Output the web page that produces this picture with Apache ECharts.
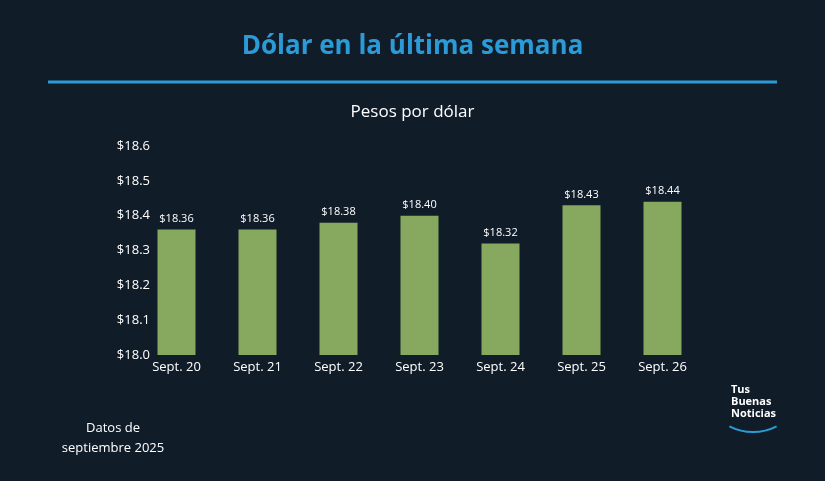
<!DOCTYPE html>
<html lang="es">
<head>
  <meta charset="UTF-8">
  <title>Dólar en la última semana</title>
  <style>
    html, body { margin: 0; padding: 0; background: #111c29; }
    #chart { width: 825px; height: 481px; }
  </style>
  <script src="https://cdn.jsdelivr.net/npm/echarts@6/dist/echarts.min.js"></script>
</head>
<body>
  <div id="chart"></div>
  <script>
    var days = ['Sept. 20', 'Sept. 21', 'Sept. 22', 'Sept. 23', 'Sept. 24', 'Sept. 25', 'Sept. 26'];
    var pesos = [18.36, 18.36, 18.38, 18.40, 18.32, 18.43, 18.44];

    var chart = echarts.init(document.getElementById('chart'));
    chart.setOption({
      backgroundColor: '#111c29',
      textStyle: { fontFamily: 'Open Sans' },
      title: [{
        text: 'Dólar en la última semana',
        left: 'center',
        top: 29,
        textStyle: { color: '#2b9bd8', fontSize: 26, fontWeight: 'bold', fontFamily: 'Open Sans' }
      }, {
        text: 'Pesos por dólar',
        left: 'center',
        top: 99,
        textStyle: { color: '#ffffff', fontSize: 17, fontWeight: 'normal', fontFamily: 'Open Sans' }
      }],
      graphic: [
        { type: 'line', shape: { x1: 48, y1: 82, x2: 777, y2: 82 }, style: { stroke: '#2b9bd8', lineWidth: 3 } },
        { type: 'text', x: 113, y: 418, style: { text: 'Datos de\nseptiembre 2025', fill: '#ffffff', font: '13px "Open Sans"', align: 'center', lineHeight: 20 } },
        { type: 'text', left: 731, top: 384, style: { text: 'Tus\nBuenas\nNoticias', fill: '#ffffff', font: 'bold 11px "Open Sans"', lineHeight: 12 } },
        { type: 'arc', shape: { cx: 753, cy: 380, r: 52, startAngle: Math.PI * 0.35, endAngle: Math.PI * 0.65 }, style: { stroke: '#2b9bd8', lineWidth: 2, fill: null } }
      ],
      grid: { left: 136, right: 122, top: 146, bottom: 126 },
      xAxis: {
        type: 'category',
        data: days,
        axisLine: { show: false },
        axisTick: { show: false },
        axisLabel: { color: '#ffffff', fontSize: 13, margin: 6 }
      },
      yAxis: {
        type: 'value',
        min: 18.0,
        max: 18.6,
        interval: 0.1,
        splitLine: { show: false },
        axisLabel: { color: '#ffffff', fontSize: 13, margin: -14, formatter: function (v) { return '$' + v.toFixed(1); } }
      },
      series: [{
        type: 'bar',
        data: pesos,
        barWidth: 38,
        itemStyle: { color: '#86a85f' },
        label: { show: true, position: 'top', color: '#ffffff', fontSize: 11, formatter: function (p) { return '$' + p.value.toFixed(2); } }
      }]
    });
  </script>
</body>
</html>
